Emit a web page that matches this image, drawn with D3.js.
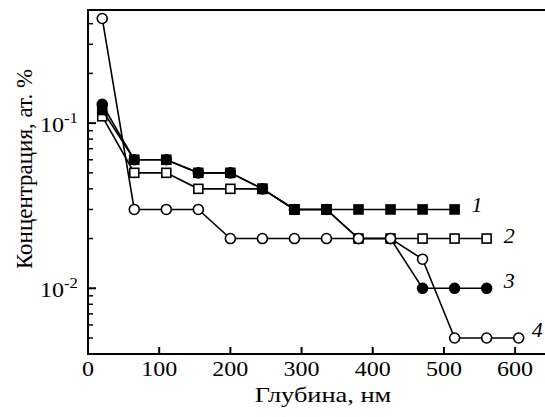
<!DOCTYPE html>
<html>
<head>
<meta charset="utf-8">
<script src="https://d3js.org/d3.v7.min.js"></script>
<style>
  body { margin: 0; background: #fff; }
  text { font-family: "Liberation Serif", "Times New Roman", serif; fill: #000; }
  .tick-label { font-size: 20px; }
  .axis-title { font-size: 22px; }
  .series-label { font-size: 22px; font-style: italic; }
</style>
</head>
<body>
<div id="chart"></div>
<script>
// depth, nm
var depth = [20, 65, 110, 155, 200, 245, 290, 335, 380, 425, 470, 515, 560, 605];

// concentration, at. %
var series1 = [0.12, 0.06, 0.06, 0.05, 0.05, 0.04, 0.03, 0.03, 0.03, 0.03, 0.03, 0.03];
var series2 = [0.11, 0.05, 0.05, 0.04, 0.04, 0.04, 0.03, 0.03, 0.02, 0.02, 0.02, 0.02, 0.02];
var series3 = [0.13, 0.06, 0.06, 0.05, 0.05, 0.04, 0.03, 0.03, 0.02, 0.02, 0.01, 0.01, 0.01];
var series4 = [0.43, 0.03, 0.03, 0.03, 0.02, 0.02, 0.02, 0.02, 0.02, 0.02, 0.015, 0.005, 0.005, 0.005];

var seriesNames = ["1", "2", "3", "4"];
var xTicks = [0, 100, 200, 300, 400, 500, 600];
var yMajor = [0.01, 0.1];
var yMinor = [0.005, 0.006, 0.007, 0.008, 0.009, 0.02, 0.03, 0.04, 0.05, 0.06, 0.07, 0.08, 0.09, 0.2, 0.3, 0.4];

function drawChart() {
  var width = 545, height = 417;
  var pLeft = 88, pRight = 545, pTop = 10, pBottom = 354;
  var stretch = 1.2; // the original figure is a bit wider than tall

  var x = d3.scaleLinear().domain([0, 642]).range([pLeft, pRight]);
  var y = d3.scaleLog().domain([0.004, 0.484]).range([pBottom, pTop]);

  var svg = d3.select("#chart").append("svg")
    .attr("width", width)
    .attr("height", height);

  // frame: left, top, bottom
  svg.append("path")
    .attr("d", "M" + pRight + "," + pTop + "H" + pLeft + "V" + pBottom + "H" + pRight)
    .attr("fill", "none")
    .attr("stroke", "#000")
    .attr("stroke-width", 2);

  // y ticks (inward)
  svg.selectAll(".ymaj").data(yMajor).enter().append("line")
    .attr("x1", pLeft).attr("x2", pLeft + 8)
    .attr("y1", function(d) { return y(d); })
    .attr("y2", function(d) { return y(d); })
    .attr("stroke", "#000").attr("stroke-width", 2);

  svg.selectAll(".ymin").data(yMinor).enter().append("line")
    .attr("x1", pLeft).attr("x2", pLeft + 5)
    .attr("y1", function(d) { return y(d); })
    .attr("y2", function(d) { return y(d); })
    .attr("stroke", "#000").attr("stroke-width", 1.5);

  var ylab = svg.selectAll(".ylab").data(yMajor).enter().append("text")
    .attr("class", "tick-label")
    .attr("transform", function(d) { return "translate(" + (pLeft - 10) + "," + (y(d) + 9) + ") scale(" + stretch + ",1)"; })
    .attr("text-anchor", "end");
  ylab.append("tspan").text("10");
  ylab.append("tspan")
    .attr("dy", -9)
    .style("font-size", "14px")
    .text(function(d) { return "-" + Math.round(-Math.log10(d)); });

  // x ticks (inward)
  svg.selectAll(".xt").data(xTicks.filter(function(d) { return d > 0; })).enter().append("line")
    .attr("x1", function(d) { return x(d); })
    .attr("x2", function(d) { return x(d); })
    .attr("y1", pBottom).attr("y2", pBottom - 7)
    .attr("stroke", "#000").attr("stroke-width", 2);

  svg.selectAll(".xl").data(xTicks).enter().append("text")
    .attr("class", "tick-label")
    .attr("transform", function(d) { return "translate(" + x(d) + ",376) scale(" + stretch + ",1)"; })
    .attr("text-anchor", "middle")
    .text(function(d) { return d; });

  // axis titles
  svg.append("text")
    .attr("class", "axis-title")
    .attr("transform", "translate(323,402) scale(" + stretch + ",1)")
    .attr("text-anchor", "middle")
    .text("Глубина, нм");

  svg.append("text")
    .attr("class", "axis-title")
    .style("font-size", "23px")
    .attr("transform", "translate(32,169) rotate(-90)")
    .attr("text-anchor", "middle")
    .text("Концентрация, ат. %");

  // series
  var line = d3.line()
    .x(function(d, i) { return x(depth[i]); })
    .y(function(d) { return y(d); });

  var all = [
    { values: series2, marker: "square", fill: "#fff", name: seriesNames[1], dx: 17, dy: 4 },
    { values: series3, marker: "circle", fill: "#000", name: seriesNames[2], dx: 17, dy: 0 },
    { values: series1, marker: "square", fill: "#000", name: seriesNames[0], dx: 17, dy: 3 },
    { values: series4, marker: "circle", fill: "#fff", name: seriesNames[3], dx: 13, dy: -1 }
  ];

  all.forEach(function(s) {
    var g = svg.append("g");
    g.append("path")
      .attr("d", line(s.values))
      .attr("fill", "none")
      .attr("stroke", "#000")
      .attr("stroke-width", 1.6);

    if (s.marker === "circle") {
      g.selectAll("circle").data(s.values).enter().append("circle")
        .attr("cx", function(d, i) { return x(depth[i]); })
        .attr("cy", function(d) { return y(d); })
        .attr("r", 5)
        .attr("fill", s.fill)
        .attr("stroke", "#000")
        .attr("stroke-width", 1.6);
    } else {
      g.selectAll("rect").data(s.values).enter().append("rect")
        .attr("x", function(d, i) { return x(depth[i]) - 4.5; })
        .attr("y", function(d) { return y(d) - 4.5; })
        .attr("width", 9).attr("height", 9)
        .attr("fill", s.fill)
        .attr("stroke", "#000")
        .attr("stroke-width", 1.6);
    }

    var last = s.values.length - 1;
    g.append("text")
      .attr("class", "series-label")
      .attr("x", x(depth[last]) + s.dx)
      .attr("y", y(s.values[last]) + s.dy)
      .text(s.name);
  });
}

drawChart();
</script>
</body>
</html>
